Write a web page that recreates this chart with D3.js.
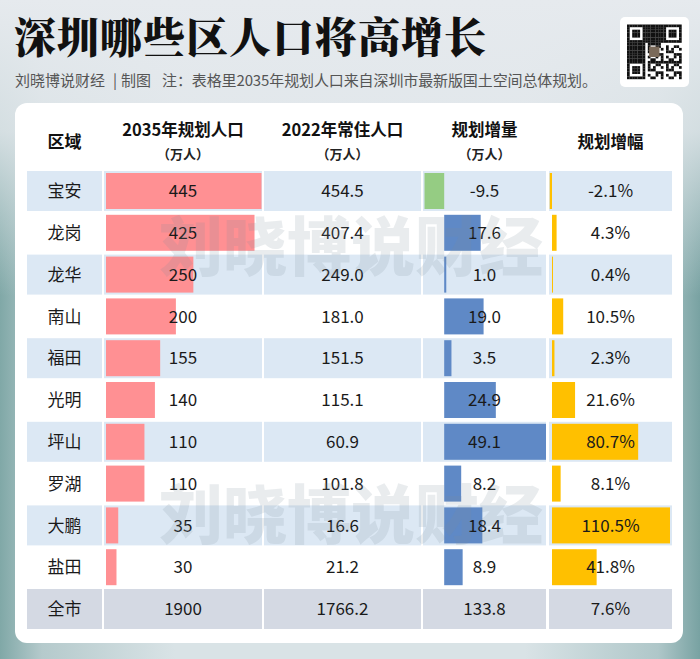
<!DOCTYPE html>
<html><head><meta charset="utf-8">
<script src="https://cdn.jsdelivr.net/npm/d3@7"></script>
<style>html,body{margin:0;padding:0;background:#dfe6ea;}svg{display:block;}</style>
</head><body><div id="chart"></div>
<script>
const districts = ['宝安','龙岗','龙华','南山','福田','光明','坪山','罗湖','大鹏','盐田'];
const plan2035 = [445,425,250,200,155,140,110,110,35,30];
const resident2022 = [454.5,407.4,249.0,181.0,151.5,115.1,60.9,101.8,16.6,21.2];
const increase = [-9.5,17.6,1.0,19.0,3.5,24.9,49.1,8.2,18.4,8.9];
const growthPct = [-2.1,4.3,0.4,10.5,2.3,21.6,80.7,8.1,110.5,41.8];
const totalLabel = '全市';
const totalValues = [1900, 1766.2, 133.8, 7.6];
const headers = [['区域',''],['2035年规划人口','（万人）'],['2022年常住人口','（万人）'],['规划增量','（万人）'],['规划增幅','']];
const titleText = '深圳哪些区人口将高增长';
const subtitleParts = ['刘晓博说财经','|','制图','注：表格里2035年规划人口来自深圳市最新版国土空间总体规划。'];
const watermark = '刘晓博说财经';

const W = 700, H = 659;
const FONT = '"Noto Sans CJK SC","Noto Sans",sans-serif';
const svg = d3.select('#chart').append('svg').attr('width', W).attr('height', H);
const defs = svg.append('defs');

// background
const g1 = defs.append('linearGradient').attr('id','bgh').attr('x1','0').attr('x2','1').attr('y1','0').attr('y2','0');
[[0,'#80a8a7'],[0.06,'#b5cacc'],[0.25,'#d9e3e6'],[0.75,'#d9e3e6'],[0.94,'#afc7c9'],[1,'#78a2a2']].forEach(s=>g1.append('stop').attr('offset',s[0]).attr('stop-color',s[1]));
const g2 = defs.append('linearGradient').attr('id','bgv').attr('x1','0').attr('x2','0').attr('y1','0').attr('y2','1');
[[0,'#e6eaee',1],[0.2,'#e3e8ec',0.85],[0.45,'#e3e8ec',0],[1,'#e3e8ec',0]].forEach(s=>g2.append('stop').attr('offset',s[0]).attr('stop-color',s[1]).attr('stop-opacity',s[2]));
svg.append('rect').attr('width',W).attr('height',H).attr('fill','url(#bgh)');
svg.append('rect').attr('width',W).attr('height',H).attr('fill','url(#bgv)');

// title
svg.append('text').attr('x',14).attr('y',53).text(titleText)
  .attr('font-family','"Noto Serif CJK SC","Noto Sans CJK SC",serif').attr('font-weight',900)
  .attr('font-size',42).attr('fill','#111').attr('letter-spacing',1);
const subX = [15, 113, 121, 162];
subtitleParts.forEach((t,i)=>{
  const s = svg.append('text').attr('x',subX[i]).attr('y',86).text(t)
    .attr('font-family',FONT).attr('font-size',15).attr('fill','#555');
  if (i===3) s.attr('textLength',435).attr('lengthAdjust','spacing');
});

// QR code decoration
const qr = svg.append('g').attr('transform','translate(620,17)');
qr.append('rect').attr('width',69).attr('height',70).attr('rx',5).attr('fill','#fff');
const N = 21, ms = 2.6, ox = 7, oy = 7.5;
const cells = [];
for (let i=0;i<N;i++) for (let j=0;j<N;j++){
  const inF = (a,b)=> a<7&&b<7;
  let on;
  const f = (r,c)=>{ const d=Math.max(Math.abs(r-3),Math.abs(c-3)); return d!==2; };
  if (inF(i,j)) on = f(i,j);
  else if (inF(i,j-(N-7))) on = f(i,j-(N-7));
  else if (inF(i-(N-7),j)) on = f(i-(N-7),j);
  else if ((i<8&&j<8)||(i<8&&j>=N-8)||(i>=N-8&&j<8)) on=false;
  else on = ((i*i*3 + j*7 + i*j*5) % 7) < 3;
  if (on) cells.push([i,j]);
}
qr.selectAll('rect.m').data(cells).join('rect').attr('class','m')
  .attr('x',d=>ox+d[1]*ms).attr('y',d=>oy+d[0]*ms).attr('width',ms+0.1).attr('height',ms+0.1).attr('fill','#111');
qr.append('rect').attr('x',ox+8.5*ms).attr('y',oy+8.5*ms).attr('width',ms*4).attr('height',ms*4).attr('fill','#7a6a5a');

// card
svg.append('rect').attr('x',15).attr('y',103).attr('width',668).attr('height',540).attr('rx',12).attr('fill','#fff');

// columns
const cols = [[27,102],[104,262],[264,421],[423,546],[549,672]];
const cx = cols.map(c=>(c[0]+c[1])/2);

// headers
headers.forEach((h,i)=>{
  const two = h[1] !== '';
  svg.append('text').attr('x',cx[i]).attr('y', two ? 136 : 148).attr('text-anchor','middle')
    .attr('font-family',FONT).attr('font-weight',700).attr('font-size', i===0?17:16.5).attr('fill','#111').text(h[0]);
  if (two) svg.append('text').attr('x',cx[i]).attr('y',159).attr('text-anchor','middle')
    .attr('font-family',FONT).attr('font-weight',700).attr('font-size',13).attr('fill','#222').text(h[1]);
});

// rows
const rowNames = districts.concat([totalLabel]);
const y = d3.scaleBand().domain(rowNames).range([171, 629]).paddingInner(0.043).paddingOuter(0);
const bw = y.bandwidth();

const rows = districts.map((d,i)=>({name:d, plan:plan2035[i], res:resident2022[i], inc:increase[i], pct:growthPct[i], i}));

// band backgrounds
const bandRows = rows.filter(r=>r.i%2===0);
cols.forEach(c=>{
  svg.append('g').selectAll('rect').data(bandRows).join('rect')
    .attr('x',c[0]).attr('width',c[1]-c[0]).attr('y',d=>y(d.name)).attr('height',bw).attr('fill','#dce8f4');
  svg.append('rect').attr('x',c[0]).attr('width',c[1]-c[0]).attr('y',y(totalLabel)).attr('height',bw).attr('fill','#d4d9e3');
});

// scales
const xPlan = d3.scaleLinear().domain([0,445]).range([106,261.5]);
const xInc = d3.scaleLinear().domain([-9.5,49.1]).range([424.5,546]);
const xPct = d3.scaleLinear().domain([0,110.5]).range([552,670]);

const bars = svg.append('g');
bars.selectAll('rect.plan').data(rows).join('rect').attr('class','plan')
  .attr('x',xPlan(0)).attr('width',d=>xPlan(d.plan)-xPlan(0))
  .attr('y',d=>y(d.name)+2).attr('height',bw-4).attr('fill','#ff9093');
bars.selectAll('rect.inc').data(rows).join('rect').attr('class','inc')
  .attr('x',d=>Math.min(xInc(0),xInc(d.inc))).attr('width',d=>Math.max(1,Math.abs(xInc(d.inc)-xInc(0))))
  .attr('y',d=>y(d.name)+2).attr('height',bw-4).attr('fill',d=>d.inc<0?'#95cc83':'#5f89c6');
bars.selectAll('rect.pct').data(rows).join('rect').attr('class','pct')
  .attr('x',d=>Math.min(xPct(0),xPct(d.pct))).attr('width',d=>Math.max(1,Math.abs(xPct(d.pct)-xPct(0))))
  .attr('y',d=>y(d.name)+2).attr('height',bw-4).attr('fill','#ffc000');

// texts
const f1 = v => v.toFixed(1);
const txt = svg.append('g').attr('font-family',FONT).attr('font-size',17).attr('fill','#1a1a1a').attr('text-anchor','middle');
const cellText = (col, acc) => txt.append('g').selectAll('text').data(rows).join('text')
  .attr('x',cx[col]).attr('y',d=>y(d.name)+bw/2).attr('dy','0.36em').text(acc);
cellText(0, d=>d.name);
cellText(1, d=>String(d.plan));
cellText(2, d=>f1(d.res));
cellText(3, d=>f1(d.inc));
cellText(4, d=>f1(d.pct)+'%');
const tot = [totalLabel, String(totalValues[0]), f1(totalValues[1]), f1(totalValues[2]), f1(totalValues[3])+'%'];
tot.forEach((t,i)=>txt.append('text').attr('x',cx[i]).attr('y',y(totalLabel)+bw/2).attr('dy','0.36em').text(t));

// watermark
[247, 515].forEach(wy=>{
  svg.append('text').attr('x',351).attr('y',wy).attr('dy','0.36em').attr('text-anchor','middle')
    .attr('font-family',FONT).attr('font-weight',900).attr('font-size',64)
    .attr('fill','#7f8c99').attr('fill-opacity',0.17).text(watermark);
});
</script></body></html>
